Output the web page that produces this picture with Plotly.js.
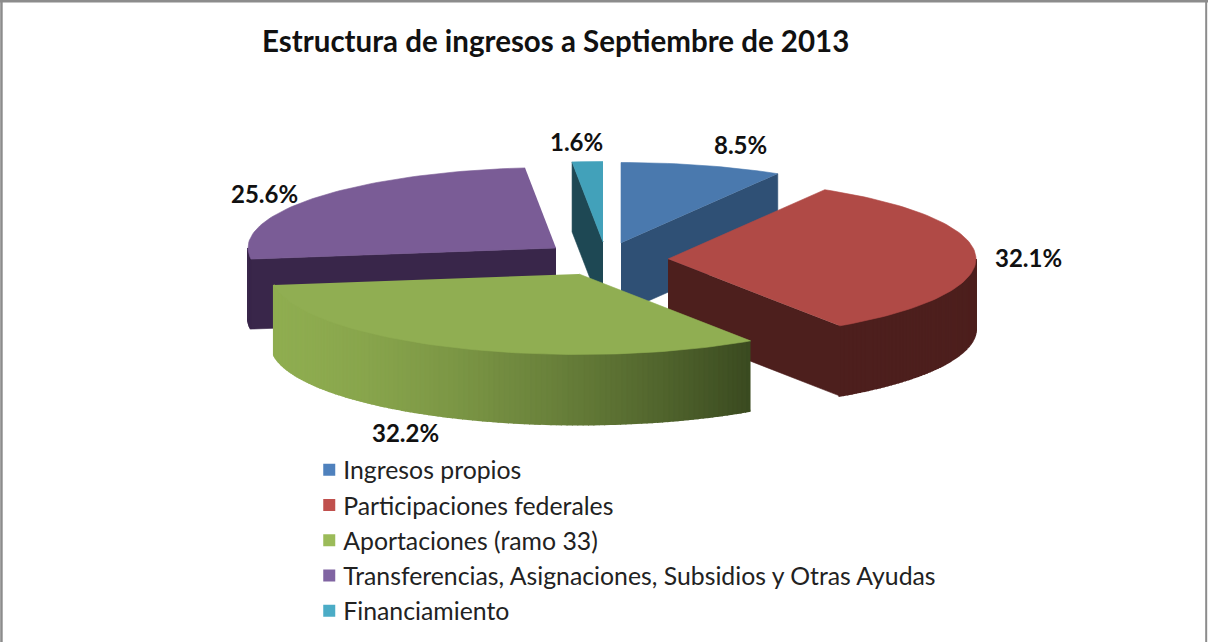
<!DOCTYPE html>
<html><head><meta charset="utf-8">
<script src="https://cdn.plot.ly/plotly-3.0.1.min.js"></script>
<style>html,body{margin:0;padding:0;background:#fff}#c{width:1208px;height:642px}</style>
</head><body><div id="c"></div>
<script>
// Data
var categories = ["Ingresos propios","Participaciones federales","Aportaciones (ramo 33)","Transferencias, Asignaciones, Subsidios y Otras Ayudas","Financiamiento"];
var values = [8.5,32.1,32.2,25.6,1.6];
var chartTitle = "Estructura de ingresos a Septiembre de 2013";

// Style / geometry of the tilted, exploded pie
var topColors  = ["#4a79ae","#b04a46","#90ae52","#7a5c96","#42a1ba"];
var wallColors = ["#2f5075","#4d1f1d","#3a1f46","#39264a","#1e4854"];
var swatches   = ["#4f81bd","#c0504d","#9bbb59","#8064a2","#4bacc6"];
var apexX = [621,668,579,556,603];
var apexY = [243,259,274,248,242];
var labelX = [740,1028,405,264,576];
var labelY = [144,257,432,193,141];
var RX = 308, RY = 80.5, DEPTH = 70;
var drawOrder = [3,4,0,1,2];

var total = values.reduce(function(a,b){return a+b;},0);
var starts = [], run = 0;
values.forEach(function(v){starts.push(run/total*360); run += v;});
function rim(i,deg,drop){
  var r = deg*Math.PI/180;
  return [apexX[i]+RX*Math.sin(r), apexY[i]-RY*Math.cos(r)+(drop||0)];
}
function hex(c){return [1,3,5].map(function(k){return parseInt(c.substr(k,2),16);});}
function mix(a,b,t){var A=hex(a),B=hex(b);return "rgb("+A.map(function(v,k){return Math.round(v+(B[k]-v)*t);}).join(",")+")";}
function poly(pts,color,w){
  var x=pts.map(function(p){return p[0];}), y=pts.map(function(p){return p[1];});
  return {type:"scatter",mode:"lines",x:x,y:y,fill:"toself",fillcolor:color,
          line:{color:color,width:w},hoverinfo:"skip",showlegend:false};
}
var traces = [];
drawOrder.forEach(function(i){
  var a0 = starts[i], a1 = a0 + values[i]/total*360;
  var eps = 1e-6;
  // straight cut walls: visible only when they face the viewer
  function cut(a){
    var p=rim(i,a), q=rim(i,a,DEPTH);
    traces.push(poly([[apexX[i],apexY[i]],p,q,[apexX[i],apexY[i]+DEPTH]],wallColors[i],0.6));
  }
  if(a0>180+eps && a0<360-eps) cut(a0);
  if(a1>eps && a1<180-eps) cut(a1);
  // curved outer wall, in narrow strips for the shading
  var lo=Math.max(a0,90), hi=Math.min(a1,270);
  if(hi>lo){
    var n=Math.ceil((hi-lo)/1);
    for(var k=0;k<n;k++){
      var u=lo+(hi-lo)*k/n, v=lo+(hi-lo)*(k+1)/n, mid=(u+v)/2;
      var col=wallColors[i];
      if(i===2){ // green wall: bright at the left, very dark at the right
        var t=(rim(i,mid)[0]-274)/(750-274);
        col = mix("#8fad50","#3a4a20",Math.pow(t,1.5));
      }
      traces.push(poly([rim(i,u),rim(i,v),rim(i,v,DEPTH),rim(i,u,DEPTH)],col,2));
    }
  }
  // top face
  var pts=[[apexX[i],apexY[i]]], m=Math.ceil((a1-a0)/1.5);
  for(var j=0;j<=m;j++) pts.push(rim(i,a0+(a1-a0)*j/m));
  traces.push(poly(pts,topColors[i],0.6));
});
// legend entries
categories.forEach(function(name,i){
  traces.push({type:"scatter",mode:"markers",x:[-100],y:[-100],name:name,legendgroup:"g"+i,
    marker:{symbol:"square",size:12,color:swatches[i]},hoverinfo:"skip",showlegend:true});
});
var FONT='Lato, "Open Sans", sans-serif';
var annotations = values.map(function(v,i){
  return {xref:"x",yref:"y",x:labelX[i],y:labelY[i],text:"<b>"+v.toFixed(1)+"%</b>",showarrow:false,
          font:{family:FONT,size:24,color:"#111"},xanchor:"center",yanchor:"middle"};
});
var layout = {
  width:1208,height:642,margin:{l:0,r:0,t:0,b:0},showlegend:true,
  paper_bgcolor:"#fff",plot_bgcolor:"#fff",
  title:{text:"<b>"+chartTitle+"</b>",font:{family:FONT,size:29.5,color:"#111"},x:0.46,xanchor:"center",y:0.935,yanchor:"middle"},
  xaxis:{range:[0,1208],visible:false,fixedrange:true},
  yaxis:{range:[642,0],visible:false,fixedrange:true},
  legend:{x:0.256,y:0.3035,xanchor:"left",yanchor:"top",font:{family:FONT,size:24.8,color:"#222"},
          traceorder:"grouped",tracegroupgap:0,itemwidth:30,bgcolor:"rgba(0,0,0,0)"},
  annotations:annotations,
  shapes:[
    {type:"line",xref:"paper",yref:"paper",x0:0,x1:1,y0:0.9985,y1:0.9985,line:{color:"#8c8c8c",width:3}},
    {type:"line",xref:"paper",yref:"paper",x0:0.0012,x1:0.0012,y0:0,y1:1,line:{color:"#8c8c8c",width:2.5}},
    {type:"line",xref:"paper",yref:"paper",x0:0.9985,x1:0.9985,y0:0,y1:1,line:{color:"#8c8c8c",width:2}}
  ]
};
Plotly.newPlot("c",traces,layout,{displayModeBar:false,responsive:false}).then(function(){
  // tighter gap between legend swatch and text, as in the reference
  document.querySelectorAll(".legendtext").forEach(function(t){t.setAttribute("x",34);});
});
</script></body></html>
